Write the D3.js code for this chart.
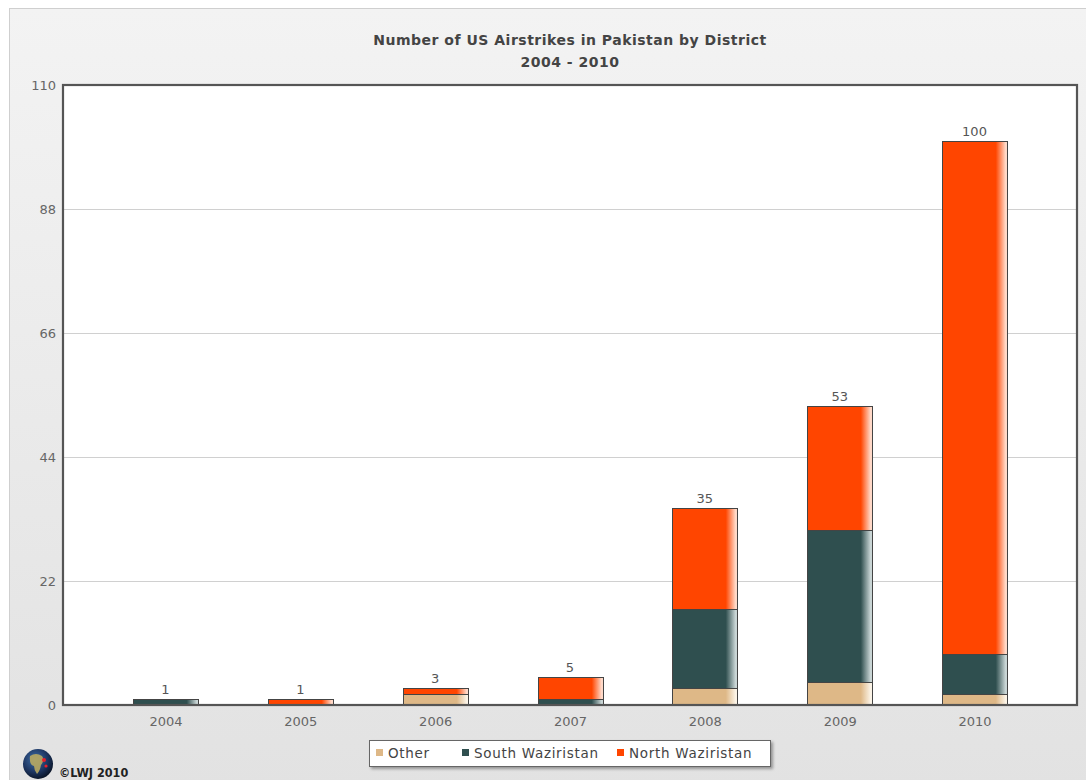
<!DOCTYPE html>
<html><head><meta charset="utf-8">
<script src="https://cdn.jsdelivr.net/npm/d3@7"></script>
<style>
html,body{margin:0;padding:0;background:#fff;}
svg{display:block;}
</style></head>
<body>
<script>
const years = ["2004","2005","2006","2007","2008","2009","2010"];
const other = [0,0,2,0,3,4,2];
const southWaziristan = [1,0,0,1,14,27,7];
const northWaziristan = [0,1,1,4,18,22,91];
const totals = [1,1,3,5,35,53,100];
const yTicks = [0,22,44,66,88,110];
const seriesNames = ["Other","South Waziristan","North Waziristan"];
const seriesColors = ["#deb887","#2f4f4f","#ff4500"];
const seriesHighlights = ["#fbf3e6","#c9d5d5","#ffd9c8"];

const W=1086,H=780;
const svg=d3.select("body").append("svg").attr("width",W).attr("height",H);
const defs=svg.append("defs");
const bg=defs.append("linearGradient").attr("id","bg").attr("x1",0).attr("y1",0).attr("x2",0).attr("y2",1);
bg.append("stop").attr("offset","0%").attr("stop-color","#f3f3f3");
bg.append("stop").attr("offset","100%").attr("stop-color","#e2e2e2");
seriesColors.forEach((c,i)=>{
  const g=defs.append("linearGradient").attr("id","g"+i).attr("x1",0).attr("y1",0).attr("x2",1).attr("y2",0);
  g.append("stop").attr("offset","0%").attr("stop-color",c);
  g.append("stop").attr("offset","82%").attr("stop-color",c);
  g.append("stop").attr("offset","97%").attr("stop-color",seriesHighlights[i]);
  g.append("stop").attr("offset","100%").attr("stop-color",seriesHighlights[i]);
});
const sh=defs.append("filter").attr("id","shadow").attr("x","-10%").attr("y","-30%").attr("width","120%").attr("height","180%");
sh.append("feDropShadow").attr("dx",2).attr("dy",2).attr("stdDeviation",1.5).attr("flood-color","#000").attr("flood-opacity",0.35);
const globe=defs.append("radialGradient").attr("id","globe").attr("cx","40%").attr("cy","35%").attr("r","70%");
globe.append("stop").attr("offset","0%").attr("stop-color","#3f6fa8");
globe.append("stop").attr("offset","60%").attr("stop-color","#1d3560");
globe.append("stop").attr("offset","100%").attr("stop-color","#07101f");

// outer panel
svg.append("rect").attr("x",9.5).attr("y",8.5).attr("width",W).attr("height",H)
  .attr("fill","url(#bg)").attr("stroke","#cfcfcf");

const m={l:63,r:1077,t:85,b:705};
const x=d3.scalePoint().domain(years).range([m.l,m.r]).padding(0.76);
const y=d3.scaleLinear().domain([0,110]).range([m.b,m.t]);
const bw=x.step()*0.48;

// plot background
svg.append("rect").attr("x",m.l).attr("y",m.t).attr("width",m.r-m.l).attr("height",m.b-m.t).attr("fill","#fff");

// grid
svg.append("g").selectAll("line").data(yTicks.filter(d=>d>0&&d<110)).join("line")
  .attr("x1",m.l).attr("x2",m.r).attr("y1",d=>Math.round(y(d))+0.5).attr("y2",d=>Math.round(y(d))+0.5)
  .attr("stroke","#d0d0d0").attr("stroke-width",1);

// stacked data
const table=years.map((yr,i)=>({year:yr,"Other":other[i],"South Waziristan":southWaziristan[i],"North Waziristan":northWaziristan[i]}));
const stack=d3.stack().keys(seriesNames)(table);

const gb=svg.append("g");
stack.forEach((layer,si)=>{
  gb.selectAll(null).data(layer.filter(d=>d[1]-d[0]>0)).join("rect")
    .attr("x",d=>Math.round(x(d.data.year)-bw/2)+0.5)
    .attr("width",Math.round(bw))
    .attr("y",d=>Math.round(y(d[1]))+0.5)
    .attr("height",d=>Math.round(y(d[0]))-Math.round(y(d[1])))
    .attr("fill","url(#g"+si+")")
    .attr("stroke","#444").attr("stroke-width",1);
});

// value labels
svg.append("g").selectAll("text").data(totals).join("text")
  .attr("x",(d,i)=>x(years[i])).attr("y",d=>y(d)-5)
  .attr("text-anchor","middle").attr("font-family","DejaVu Sans").attr("font-size",13)
  .attr("fill","#555").text(d=>d);

// plot frame
svg.append("rect").attr("x",m.l).attr("y",m.t).attr("width",m.r-m.l).attr("height",m.b-m.t)
  .attr("fill","none").attr("stroke","#555").attr("stroke-width",2.2);

// y axis labels
const ya=d3.axisLeft(y).tickValues(yTicks).tickSize(0).tickPadding(7);
const gy=svg.append("g").attr("transform",`translate(${m.l},0)`).call(ya);
gy.select(".domain").remove();
gy.selectAll("text").attr("font-family","DejaVu Sans").attr("font-size",13).attr("fill","#666");

// x axis labels
const xa=d3.axisBottom(x).tickSize(0).tickPadding(12);
const gx=svg.append("g").attr("transform",`translate(0,${m.b})`).call(xa);
gx.select(".domain").remove();
gx.selectAll("text").attr("font-family","DejaVu Sans").attr("font-size",13).attr("fill","#666");

// title
svg.append("text").attr("x",570).attr("y",45).attr("text-anchor","middle")
  .attr("font-family","DejaVu Sans").attr("font-weight","bold").attr("font-size",14).attr("letter-spacing",0.5)
  .attr("fill","#444").text("Number of US Airstrikes in Pakistan by District");
svg.append("text").attr("x",570).attr("y",67).attr("text-anchor","middle")
  .attr("font-family","DejaVu Sans").attr("font-weight","bold").attr("font-size",14).attr("letter-spacing",0.5)
  .attr("fill","#444").text("2004 - 2010");

// legend
const lg=svg.append("g");
lg.append("rect").attr("x",369.5).attr("y",740.5).attr("width",401).attr("height",26)
  .attr("fill","#fff").attr("stroke","#666").attr("filter","url(#shadow)");
const legItems=[{x:376},{x:462},{x:617}];
seriesNames.forEach((n,i)=>{
  lg.append("rect").attr("x",legItems[i].x).attr("y",749).attr("width",7).attr("height",7).attr("fill",seriesColors[i]);
  lg.append("text").attr("x",legItems[i].x+12).attr("y",758).attr("font-family","DejaVu Sans")
    .attr("font-size",13.5).attr("letter-spacing",0.7).attr("fill","#444").text(n);
});

// logo
svg.append("circle").attr("cx",38).attr("cy",764).attr("r",15).attr("fill","url(#globe)");
svg.append("path").attr("d","M30,756 q6,-4 12,0 q3,4 -1,9 q-1,6 -4,9 q-3,-4 -3,-8 q-5,-1 -4,-10z").attr("fill","#b8a860").attr("opacity",0.9);
svg.append("circle").attr("cx",44).attr("cy",760).attr("r",2).attr("fill","#e8202a");
svg.append("circle").attr("cx",46).attr("cy",766).attr("r",1.6).attr("fill","#e8202a");
svg.append("text").attr("x",59).attr("y",777).attr("font-family","DejaVu Sans Condensed, DejaVu Sans")
  .attr("font-size",12.5).attr("font-weight","bold").attr("fill","#222").text("\u00A9LWJ 2010");
</script>
</body></html>
